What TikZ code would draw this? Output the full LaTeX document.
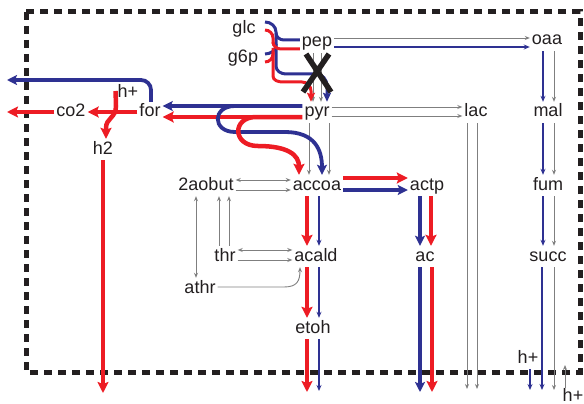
\documentclass[tikz,border=0pt]{standalone}
\usepackage{fontspec}
\setmainfont{Liberation Sans}
\usetikzlibrary{arrows.meta}
\definecolor{rd}{HTML}{ED1C24}
\definecolor{bl}{HTML}{2E3192}
\definecolor{gy}{HTML}{7F7F7F}
\definecolor{tx}{HTML}{231F20}
\begin{document}
\begin{tikzpicture}[x=1pt,y=-1pt,
  met/.style={anchor=base, inner sep=2pt, text height=13pt, text depth=4pt,
    font=\fontsize{18}{18}\selectfont, text=tx},
  gflux/.style={draw=gy, line width=0.9pt, -{Stealth[length=5pt,width=4pt]}},
  gboth/.style={draw=gy, line width=0.9pt, {Stealth[length=5pt,width=4pt]}-{Stealth[length=5pt,width=4pt]}},
  bthin/.style={draw=bl, line width=1.4pt, -{Stealth[length=6pt,width=5pt]}},
  rthick/.style={draw=rd, line width=4.5pt, -{Stealth[length=11pt,width=11pt,inset=2pt]}},
  bthick/.style={draw=bl, line width=3.8pt, -{Stealth[length=10pt,width=10pt,inset=2pt]}},
  rmid/.style={draw=rd, line width=3pt},
  bmid/.style={draw=bl, line width=3pt},
  rmidarr/.style={rmid, -{Stealth[length=9pt,width=8pt,inset=1.5pt]}},
  bmidarr/.style={bmid, -{Stealth[length=9pt,width=8pt,inset=1.5pt]}},
  cellwall/.style={draw=tx, line width=5pt, dash pattern=on 8pt off 6pt}
]
\useasboundingbox (0,0) rectangle (584,404);
\draw[cellwall] (26,12) rectangle (580,372);

% metabolites
\node[met] (glc) at (244,34) {glc};
\node[met] (g6p) at (243,63) {g6p};
\node[met] (pep) at (317,47) {pep};
\node[met] (oaa) at (547,45) {oaa};
\node[met] (pyr) at (317,117) {pyr};
\node[met] (lac) at (476,117) {lac};
\node[met] (mal) at (548,117) {mal};
\node[met] (for) at (150,117) {for};
\node[met] (co2) at (71,117) {co2};
\node[met] (hp) at (128,97) {h+};
\node[met] (h2) at (103,154) {h2};
\node[met] (aob) at (206,190) {2aobut};
\node[met] (accoa) at (317,190) {accoa};
\node[met] (actp) at (427,190) {actp};
\node[met] (fum) at (548,190) {fum};
\node[met] (thr) at (225,261) {thr};
\node[met] (acald) at (316,261) {acald};
\node[met] (ac) at (425,261) {ac};
\node[met] (succ) at (548,261) {succ};
\node[met] (athr) at (200,293) {athr};
\node[met] (etoh) at (313,333) {etoh};
\node[met] (hpb) at (528,363) {h+};
\node[met, text depth=0pt, inner sep=0pt] (hpc) at (573,401) {h+};

% gray fluxes
\draw[gflux] (pep.east |- 0,38) -- (oaa.west |- 0,38);
\draw[gflux] (pep.south -| 313,0) -- (pyr.north -| 313,0);
\draw[gflux] (pep.south -| 321,0) -- (pyr.north -| 321,0);
\draw[gflux] (pyr.east |- 0,107) -- (lac.west |- 0,107);
\draw[gflux] (pyr.east |- 0,116) -- (lac.west |- 0,116);
\draw[gflux] (lac.south -| 467,0) -- (467,389);
\draw[gflux] (lac.south -| 477,0) -- (477,389);
\draw[gflux] (oaa.south -| 554,0) -- (mal.north -| 554,0);
\draw[gflux] (mal.south -| 554,0) -- (fum.north -| 554,0);
\draw[gflux] (fum.south -| 554,0) -- (succ.north -| 554,0);
\draw[gflux] (succ.south -| 554,0) -- (554,390);
\draw[gflux] (hpc.north -| 565,0) -- (565,365);
\draw[gflux] (pyr.south -| 309,0) -- (accoa.north -| 309,0);
\draw[gflux] (pyr.south -| 329,0) -- (accoa.north -| 329,0);
\draw[gboth] (aob.east |- 0,180) -- (accoa.west |- 0,180);
\draw[gflux] (aob.east |- 0,190) -- (accoa.west |- 0,190);
\draw[gboth] (thr.east |- 0,250) -- (acald.west |- 0,250);
\draw[gflux] (thr.east |- 0,260) -- (acald.west |- 0,260);
\draw[gflux] (thr.north -| 219,0) -- (aob.south -| 219,0);
\draw[gflux] (thr.north -| 229,0) -- (aob.south -| 229,0);
\draw[gboth] (aob.south -| 196,0) -- (athr.north -| 196,0);
\draw[gflux] (athr.east |- 0,287) -- (284,287) .. controls (297,287) and (300,281) .. (acald.south -| 300,0);

% thin blue fluxes
\draw[bthin] (pep.east |- 0,47) -- (oaa.west |- 0,47);
\draw[bthin] (oaa.south -| 543,0) -- (mal.north -| 543,0);
\draw[bthin] (mal.south -| 543,0) -- (fum.north -| 543,0);
\draw[bthin] (fum.south -| 543,0) -- (succ.north -| 543,0);
\draw[bthin] (succ.south -| 542,0) -- (542,390);
\draw[bthin] (hpb.south -| 530,0) -- (530,390);
\draw[bthin] (accoa.south -| 319,0) -- (acald.north -| 319,0);
\draw[bthin] (acald.south -| 319,0) -- (etoh.north -| 319,0);
\draw[bthin] (etoh.south -| 319,0) -- (319,391);

% glc / g6p braces
\draw[bmid] (265,22) to[out=0,in=90] (276,32) -- (276,40);
\draw[bmid] (276,33) to[out=-90,in=180] (284,40) -- (pep.west |- 0,40);
\draw[bmid] (265,54) to[out=0,in=-90] (276,45) -- (276,40);
\draw[bmidarr] (276,44) -- (276,66) to[out=-90,in=180] (286,74) -- (316,74) to[out=0,in=90] (327,86) -- (pyr.north -| 327,0);
\draw[rmid] (265,30) to[out=0,in=90] (273,38) -- (273,44);
\draw[rmid] (273,42) to[out=-90,in=180] (281,49) -- (pep.west |- 0,49);
\draw[rmid] (265,62) to[out=0,in=-90] (273,54) -- (273,48);
\draw[rmidarr] (273,52) -- (273,76) to[out=-90,in=180] (283,82) -- (302,82) to[out=0,in=90] (311,91) -- (pyr.north -| 311,0);

% knock-out mark
\draw[tx, line width=5.5pt] (306,54) -- (331,92) (329,54) -- (303,92);

% pyr to for, and to accoa
\draw[bthick] (pyr.west |- 0,106) -- (for.east |- 0,106);
\draw[rthick] (pyr.west |- 0,117) -- (for.east |- 0,117);
\draw[bthick] (pyr.west |- 0,106) -- (235,106) .. controls (212,106) and (212,132) .. (235,132)
  -- (285,132) .. controls (315,132) and (322,150) .. (accoa.north -| 322,0);
\draw[rthick] (pyr.west |- 0,117) -- (256,117) .. controls (232,117) and (232,146) .. (258,146)
  .. controls (288,146) and (299,155) .. (accoa.north -| 299,0);

% formate
\draw[bthick, rounded corners=10pt] (for.north -| 151,0) |- (7,80);
\draw[rthick] (for.west |- 0,112) -- (co2.east |- 0,112);
\draw[rthick] (co2.west |- 0,112) -- (7,112);
\draw[rthick] (hp.west |- 0,91) -- (116,106) .. controls (116,118) and (106,118) .. (106,128) -- (h2.north -| 106,0);
\draw[rthick] (h2.south -| 103,0) -- (103,393);

% accoa branch
\draw[rthick] (accoa.south -| 307,0) -- (acald.north -| 307,0);
\draw[rthick] (acald.south -| 307,0) -- (etoh.north -| 307,0);
\draw[rthick] (etoh.south -| 307,0) -- (307,392);
\draw[rthick] (accoa.east |- 0,178) -- (actp.west |- 0,178);
\draw[bthick] (accoa.east |- 0,190) -- (actp.west |- 0,190);
\draw[bthick] (actp.south -| 420,0) -- (ac.north -| 420,0);
\draw[rthick] (actp.south -| 431,0) -- (ac.north -| 431,0);
\draw[bthick] (ac.south -| 420,0) -- (420,392);
\draw[rthick] (ac.south -| 432,0) -- (432,392);
\end{tikzpicture}
\end{document}
